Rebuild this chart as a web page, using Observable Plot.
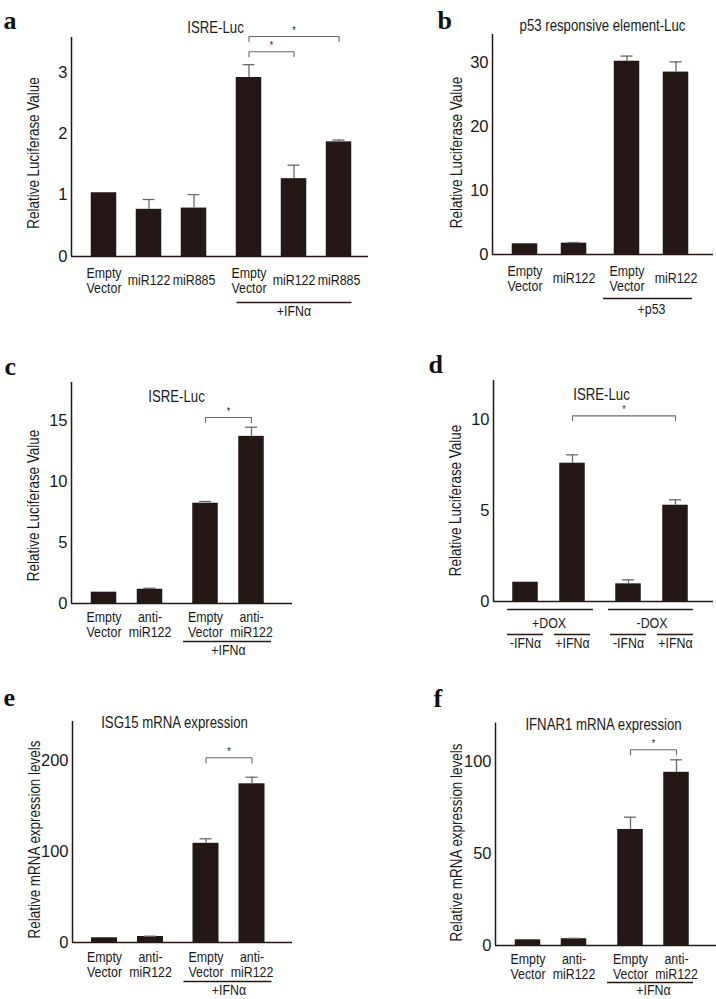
<!DOCTYPE html>
<html><head><meta charset="utf-8">
<script src="https://cdn.jsdelivr.net/npm/d3@7"></script>
<script src="https://cdn.jsdelivr.net/npm/@observablehq/plot@0.6"></script>
<style>
html,body{margin:0;padding:0;background:#fff;}
#page{position:relative;width:716px;height:999px;overflow:hidden;background:#fff;}
#page svg{position:absolute;}
</style></head><body><div id="page"></div>
<script>
// ---------- DATA ----------
// Panel a: ISRE-Luc
const aLabels = ["Empty\nVector", "miR122", "miR885", "Empty\nVector", "miR122", "miR885"];
const aGroups = [0, 0, 0, 1, 1, 1];
const aValues = [1.04, 0.77, 0.79, 2.92, 1.27, 1.87];
const aErrors = [0, 0.16, 0.22, 0.21, 0.22, 0.03];
const aTicks = [0, 1, 2, 3];
const aBrackets = [{from: 3, to: 5, y: 3.59}, {from: 3, to: 4, y: 3.34}];

// Panel b: p53 responsive element-Luc
const bLabels = ["Empty\nVector", "miR122", "Empty\nVector", "miR122"];
const bGroups = [0, 0, 1, 1];
const bValues = [1.67, 1.77, 30.2, 28.5];
const bErrors = [0, 0.1, 0.8, 1.6];
const bTicks = [0, 10, 20, 30];

// Panel c: ISRE-Luc (anti-miR122)
const cLabels = ["Empty\nVector", "anti-\nmiR122", "Empty\nVector", "anti-\nmiR122"];
const cGroups = [0, 0, 1, 1];
const cValues = [0.93, 1.17, 8.22, 13.7];
const cErrors = [0, 0.08, 0.14, 0.75];
const cTicks = [0, 5, 10, 15];
const cBrackets = [{from: 2, to: 3, y: 15.25}];

// Panel d: ISRE-Luc (DOX)
const dLabels = ["-IFNα", "+IFNα", "-IFNα", "+IFNα"];
const dGroups = [0, 0, 1, 1];
const dValues = [1.06, 7.6, 0.97, 5.29];
const dErrors = [0, 0.46, 0.22, 0.3];
const dTicks = [0, 5, 10];
const dBrackets = [{from: 1, to: 3, y: 10.2}];

// Panel e: ISG15 mRNA expression
const eLabels = ["Empty\nVector", "anti-\nmiR122", "Empty\nVector", "anti-\nmiR122"];
const eGroups = [0, 0, 1, 1];
const eValues = [5.2, 6.6, 109, 174.4];
const eErrors = [0, 0.3, 5, 7.2];
const eTicks = [0, 100, 200];
const eBrackets = [{from: 2, to: 3, y: 203}];

// Panel f: IFNAR1 mRNA expression
const fLabels = ["Empty\nVector", "anti-\nmiR122", "Empty\nVector", "anti-\nmiR122"];
const fGroups = [0, 0, 1, 1];
const fValues = [3.1, 3.7, 63.3, 94.5];
const fErrors = [0, 0.2, 6.7, 6.8];
const fTicks = [0, 50, 100];
const fBrackets = [{from: 2, to: 3, y: 106.8}];

// ---------- STYLE ----------
const FONT = '"Liberation Sans",Arial,sans-serif';
const SERIF = '"Liberation Serif","Times New Roman",serif';
const NARROW = 0.8; // condensed look of the original lettering
const BAR = "#231815", AX = "#231815", ERR = "#6a6a6a", BR = "#6a6a6a", TXT = "#1a1a1a";

function drawPanel(c) {
  const mL = c.axisX - c.left, mR = c.left + c.width - c.axisRight;
  const mT = c.axisTop - c.top, mB = c.top + c.height - c.baseline;
  const ymax = (c.baseline - c.axisTop) / c.pxPerUnit;
  const pos = i => i + c.groups[i] * c.gap / c.step;
  const x0 = (c.axisX - c.first) / c.step, x1 = (c.axisRight - c.first) / c.step;
  const rows = c.labels.map((label, i) => ({label, x: pos(i), v: c.values[i], e: c.errors[i]}));
  const withErr = rows.filter(d => d.e > 0);
  const hb = c.barW / 2 / c.step, hc = 6 / c.step;
  const drop = 5 / c.pxPerUnit;
  const brackets = (c.brackets || []).map(b => ({x1: pos(b.from), x2: pos(b.to), y: b.y}));
  const bracketPts = brackets.flatMap((b, k) => [
    {k, x: b.x1, y: b.y - drop}, {k, x: b.x1, y: b.y}, {k, x: b.x2, y: b.y}, {k, x: b.x2, y: b.y - drop}]);
  const groups = (c.groupLines || []).map(g => ({
    label: g.label,
    x1: pos(g.from) - g.extL / c.step, x2: pos(g.to) + g.extR / c.step,
    xm: (pos(g.from) + pos(g.to)) / 2
  }));
  const txt = {fontFamily: FONT, fill: TXT};
  const marks = [
    Plot.rect(rows, {x1: d => d.x - hb, x2: d => d.x + hb, y1: 0, y2: "v", fill: BAR}),
    Plot.ruleX(withErr, {x: "x", y1: "v", y2: d => d.v + d.e, stroke: ERR, strokeWidth: 1.3}),
    Plot.ruleY(withErr, {y: d => d.v + d.e, x1: d => d.x - hc, x2: d => d.x + hc, stroke: ERR, strokeWidth: 1.3}),
    Plot.ruleX([x0], {stroke: AX, strokeWidth: 1.5}),
    Plot.ruleY([0], {stroke: AX, strokeWidth: 1.5}),
    Plot.axisY(c.ticks, {tickSize: 0, tickPadding: 4, fontSize: 16.5, label: null, tickFormat: d => String(d),
      fontFamily: FONT, fill: TXT}),
    Plot.line(bracketPts, {x: "x", y: "y", z: "k", stroke: BR, strokeWidth: 1.1}),
    Plot.text(brackets, {x: d => (d.x1 + d.x2) / 2, y: "y", text: () => "*", dy: -6, fontSize: 11, ...txt}),
    Plot.text(rows, {x: "x", text: "label", frameAnchor: "bottom", dy: c.labelDy, lineAnchor: "middle",
      fontSize: 15.5, lineHeight: 0.95, ...txt}),
    Plot.ruleY(groups, {y: 0, x1: "x1", x2: "x2", dy: c.groupLineDy, stroke: AX, strokeWidth: 1.3}),
    Plot.text(groups, {x: "xm", text: "label", frameAnchor: "bottom", dy: c.groupTextDy, lineAnchor: "middle",
      fontSize: 15.5, ...txt}),
    Plot.text([c.title], {text: d => d, frameAnchor: "top-left", dx: c.titleX - c.axisX, dy: c.titleY - c.axisTop,
      textAnchor: "middle", lineAnchor: "middle", fontSize: 16.5, ...txt}),
    Plot.text([c.ylabel], {text: d => d, frameAnchor: "top-left", rotate: -90, dx: c.ylabX - c.axisX,
      dy: c.ylabY - c.axisTop, textAnchor: "middle", lineAnchor: "middle", fontSize: 16.8, ...txt}),
    Plot.text([c.letter], {text: d => d, frameAnchor: "top-left", dx: c.letterX - c.axisX,
      dy: c.letterY - c.axisTop, textAnchor: "start", lineAnchor: "bottom", fontSize: 26,
      fontWeight: "bold", fontFamily: SERIF, fill: "#111"})
  ];
  if (c.barLines) {
    marks.push(Plot.ruleY(rows, {y: 0, x1: d => d.x - c.barLines.half / c.step, x2: d => d.x + c.barLines.half / c.step,
      dy: c.barLines.dy, stroke: AX, strokeWidth: 1.3}));
  }
  const svg = Plot.plot({
    width: c.width, height: c.height,
    marginLeft: mL, marginRight: mR, marginTop: mT, marginBottom: mB,
    x: {type: "linear", domain: [x0, x1], axis: null},
    y: {domain: [0, ymax], axis: null},
    style: {background: "none", overflow: "visible", fontFamily: FONT},
    marks
  });
  // condense the sans-serif annotation text horizontally (original uses a narrow face)
  svg.querySelectorAll('g[aria-label="text"]').forEach(g => {
    if ((g.getAttribute("font-family") || "").includes("Serif")) return;
    g.querySelectorAll("text").forEach(t => {
      t.setAttribute("transform", (t.getAttribute("transform") || "") + ` scale(${NARROW},1)`);
    });
  });
  svg.style.left = c.left + "px";
  svg.style.top = c.top + "px";
  document.getElementById("page").appendChild(svg);
}

drawPanel({left: 0, top: 0, width: 372, height: 318, axisX: 71, axisRight: 368, axisTop: 37, baseline: 256,
  pxPerUnit: 61.3, first: 103.5, step: 45, gap: 10, barW: 25.5,
  labels: aLabels, groups: aGroups, values: aValues, errors: aErrors, ticks: aTicks, brackets: aBrackets,
  title: "ISRE-Luc", titleX: 215, titleY: 27, ylabel: "Relative Luciferase Value", ylabX: 33.5, ylabY: 152.5,
  letter: "a", letterX: 3, letterY: 28,
  labelDy: 24, groupLines: [{label: "+IFNα", from: 3, to: 5, extL: 12, extR: 13}], groupLineDy: 46, groupTextDy: 55});

drawPanel({left: 372, top: 0, width: 344, height: 318, axisX: 492, axisRight: 713, axisTop: 34, baseline: 254,
  pxPerUnit: 6.4, first: 524.5, step: 49, gap: 4, barW: 25.5,
  labels: bLabels, groups: bGroups, values: bValues, errors: bErrors, ticks: bTicks, brackets: [],
  title: "p53 responsive element-Luc", titleX: 602, titleY: 25, ylabel: "Relative Luciferase Value", ylabX: 456, ylabY: 152,
  letter: "b", letterX: 437, letterY: 28,
  labelDy: 24, groupLines: [{label: "+p53", from: 2, to: 3, extL: 23.5, extR: 16.5}], groupLineDy: 44, groupTextDy: 55});

drawPanel({left: 0, top: 318, width: 372, height: 342, axisX: 71, axisRight: 292, axisTop: 382, baseline: 603,
  pxPerUnit: 12.2, first: 103.5, step: 46, gap: 9.5, barW: 25.5,
  labels: cLabels, groups: cGroups, values: cValues, errors: cErrors, ticks: cTicks, brackets: cBrackets,
  title: "ISRE-Luc", titleX: 176, titleY: 396, ylabel: "Relative Luciferase Value", ylabX: 33.5, ylabY: 505,
  letter: "c", letterX: 4, letterY: 374,
  labelDy: 21.5, groupLines: [{label: "+IFNα", from: 2, to: 3, extL: 22, extR: 20}], groupLineDy: 38, groupTextDy: 47});

drawPanel({left: 372, top: 318, width: 344, height: 342, axisX: 493, axisRight: 713, axisTop: 380, baseline: 601,
  pxPerUnit: 18.2, first: 525, step: 47, gap: 9, barW: 25.5,
  labels: dLabels, groups: dGroups, values: dValues, errors: dErrors, ticks: dTicks, brackets: dBrackets,
  title: "ISRE-Luc", titleX: 601, titleY: 394, ylabel: "Relative Luciferase Value", ylabX: 455.5, ylabY: 500,
  letter: "d", letterX: 428, letterY: 372,
  labelDy: 42, barLines: {dy: 33, half: 18},
  groupLines: [{label: "+DOX", from: 0, to: 1, extL: 18, extR: 21}, {label: "-DOX", from: 2, to: 3, extL: 20, extR: 18}],
  groupLineDy: 8, groupTextDy: 22});

drawPanel({left: 0, top: 660, width: 372, height: 339, axisX: 72, axisRight: 292, axisTop: 721, baseline: 942,
  pxPerUnit: 0.91, first: 104, step: 46, gap: 9.5, barW: 26,
  labels: eLabels, groups: eGroups, values: eValues, errors: eErrors, ticks: eTicks, brackets: eBrackets,
  title: "ISG15 mRNA expression", titleX: 174, titleY: 722, ylabel: "Relative mRNA expression levels", ylabX: 34.5, ylabY: 839,
  letter: "e", letterX: 3, letterY: 705,
  labelDy: 22, groupLines: [{label: "+IFNα", from: 2, to: 3, extL: 22, extR: 20}], groupLineDy: 39, groupTextDy: 48});

drawPanel({left: 372, top: 660, width: 344, height: 339, axisX: 495, axisRight: 716, axisTop: 722.7, baseline: 945,
  pxPerUnit: 1.833, first: 527.5, step: 46, gap: 10.5, barW: 25.5,
  labels: fLabels, groups: fGroups, values: fValues, errors: fErrors, ticks: fTicks, brackets: fBrackets,
  title: "IFNAR1 mRNA expression", titleX: 603, titleY: 724, ylabel: "Relative mRNA expression levels", ylabX: 456.5, ylabY: 842,
  letter: "f", letterX: 433, letterY: 706,
  labelDy: 21, groupLines: [{label: "+IFNα", from: 2, to: 3, extL: 23, extR: 17}], groupLineDy: 37, groupTextDy: 45});
</script></body></html>
